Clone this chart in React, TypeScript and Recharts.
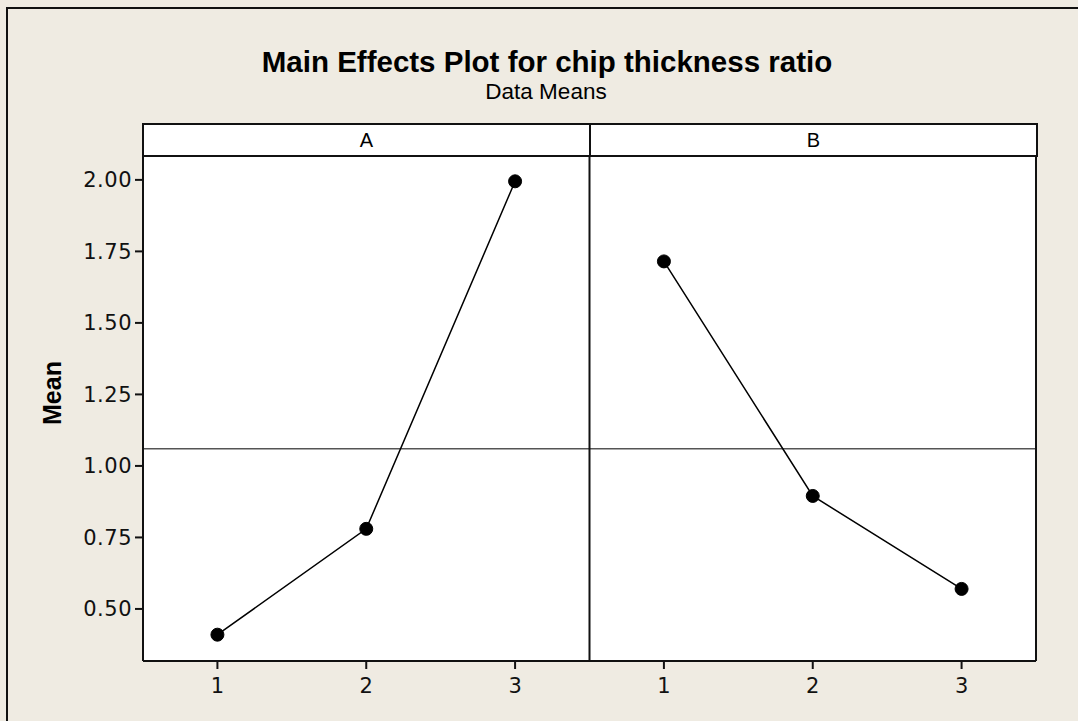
import { LineChart, Line, XAxis, YAxis, ReferenceLine, CartesianGrid } from 'recharts';

const levels = [1, 2, 3];
const meansA = [0.41, 0.78, 1.995];
const meansB = [1.715, 0.895, 0.57];
const yTicks = [0.5, 0.75, 1.0, 1.25, 1.5, 1.75, 2.0];
const grandMean = 1.06;
const factors = ['A', 'B'];

const dataA = levels.map((lv, i) => ({ x: lv, mean: meansA[i] }));
const dataB = levels.map((lv, i) => ({ x: lv + levels.length, mean: meansB[i] }));

const bg = '#EFEBE2';
const font = '"Liberation Sans", Arial, sans-serif';
const tickFont = '"DejaVu Sans", Verdana, sans-serif';

export default function App() {
    return (
        <div
            style={{
                position: 'absolute',
                left: 0,
                top: 0,
                width: 1078,
                height: 721,
                background: bg,
                overflow: 'hidden',
                fontFamily: font,
            }}
        >
            {/* outer frame, runs off the right/bottom edge */}
            <div
                style={{
                    position: 'absolute',
                    left: 6,
                    top: 7,
                    width: 1100,
                    height: 740,
                    border: '2px solid #111',
                    boxSizing: 'border-box',
                }}
            />
            <div
                style={{
                    position: 'absolute',
                    left: 0,
                    width: 1094,
                    top: 46,
                    textAlign: 'center',
                    fontWeight: 'bold',
                    fontSize: 29.5,
                    lineHeight: '32px',
                    color: '#000',
                }}
            >
                Main Effects Plot for chip thickness ratio
            </div>
            <div
                style={{
                    position: 'absolute',
                    left: 0,
                    width: 1092,
                    top: 79,
                    textAlign: 'center',
                    fontSize: 22.5,
                    lineHeight: '26px',
                    color: '#000',
                }}
            >
                Data Means
            </div>
            <div
                style={{
                    position: 'absolute',
                    left: 52,
                    top: 393,
                    transform: 'translate(-50%, -50%) rotate(-90deg)',
                    fontWeight: 'bold',
                    fontSize: 25,
                    color: '#000',
                    whiteSpace: 'nowrap',
                }}
            >
                Mean
            </div>
            <div style={{ position: 'absolute', left: 0, top: 0 }}>
                <LineChart
                    width={1078}
                    height={721}
                    margin={{ top: 155, right: 42, bottom: 30, left: 83 }}
                >
                    <CartesianGrid horizontal={false} vertical={false} fill='#ffffff' />
                    <XAxis
                        dataKey='x'
                        type='number'
                        domain={[0.5, 6.5]}
                        ticks={[1, 2, 3, 4, 5, 6]}
                        tickFormatter={(v: number) => String(((v - 1) % 3) + 1)}
                        allowDataOverflow
                        height={30}
                        tickSize={8}
                        stroke='#111'
                        strokeWidth={2}
                        tick={{ fill: '#111', fontSize: 21, fontFamily: tickFont, dy: 7 }}
                    />
                    <YAxis
                        type='number'
                        domain={[0.318, 2.087]}
                        ticks={yTicks}
                        tickFormatter={(v: number) => v.toFixed(2)}
                        allowDataOverflow
                        width={60}
                        tickSize={8}
                        stroke='#111'
                        strokeWidth={2}
                        tick={{ fill: '#111', fontSize: 21, fontFamily: tickFont, letterSpacing: 0.5, dx: -1 }}
                    />
                    <ReferenceLine y={grandMean} stroke='#555' strokeWidth={1.5} />
                    <ReferenceLine x={3.5} stroke='#111' strokeWidth={2} />
                    <ReferenceLine x={6.5} stroke='#111' strokeWidth={2} />
                    <Line
                        data={dataA}
                        dataKey='mean'
                        stroke='#000'
                        strokeWidth={1.5}
                        dot={{ r: 6.5, fill: '#000', stroke: '#000', strokeWidth: 1 }}
                        isAnimationActive={false}
                    />
                    <Line
                        data={dataB}
                        dataKey='mean'
                        stroke='#000'
                        strokeWidth={1.5}
                        dot={{ r: 6.5, fill: '#000', stroke: '#000', strokeWidth: 1 }}
                        isAnimationActive={false}
                    />
                </LineChart>
            </div>
            {/* panel strip */}
            <div
                style={{
                    position: 'absolute',
                    left: 142,
                    top: 123,
                    width: 896,
                    height: 34,
                    border: '2px solid #111',
                    boxSizing: 'border-box',
                    background: '#fff',
                    display: 'flex',
                }}
            >
                {factors.map((f, i) => (
                    <div
                        key={f}
                        style={{
                            flex: 1,
                            borderLeft: i > 0 ? '2px solid #111' : 'none',
                            textAlign: 'center',
                            fontSize: 20,
                            lineHeight: '30px',
                            color: '#000',
                        }}
                    >
                        {f}
                    </div>
                ))}
            </div>
        </div>
    );
}
